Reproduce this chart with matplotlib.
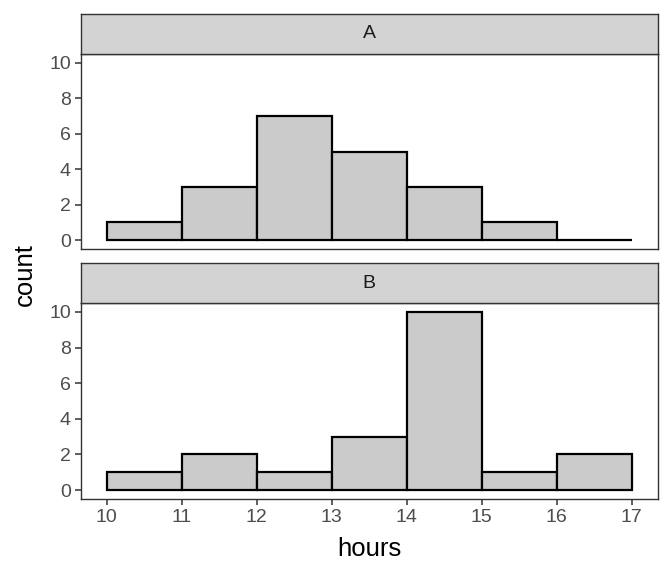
import matplotlib.pyplot as plt
import numpy as np

plt.rcParams['font.family'] = ['Liberation Sans', 'DejaVu Sans']

# データ
bin_edges = [10, 11, 12, 13, 14, 15, 16, 17]
counts_a = [1, 3, 7, 5, 3, 1, 0]
counts_b = [1, 2, 1, 3, 10, 1, 2]
panels = ['A', 'B']
yticks = [0, 2, 4, 6, 8, 10]

fig = plt.figure(figsize=(6.72, 5.76), dpi=100)
W, H = 672, 576

def box(x0, y0, x1, y1):
    # ピクセル座標 -> figure座標
    return [x0 / W, 1 - y1 / H, (x1 - x0) / W, (y1 - y0) / H]

panel_boxes = [box(80.5, 54, 658, 249), box(80.5, 303, 658, 499)]
strip_boxes = [box(80.5, 14, 658, 54), box(80.5, 263, 658, 303)]

for i, (name, counts) in enumerate(zip(panels, [counts_a, counts_b])):
    ax = fig.add_axes(panel_boxes[i])
    ax.bar(bin_edges[:-1], counts, width=1, align='edge',
           color='#cbcbcb', edgecolor='black', linewidth=1.6, zorder=2)
    ax.set_xlim(9.65, 17.35)
    ax.set_ylim(-0.5, 10.5)
    ax.set_yticks(yticks)
    ax.set_xticks(bin_edges)
    for s in ax.spines.values():
        s.set_color('#333333')
        s.set_linewidth(1.0)
    ax.tick_params(colors='#333333', labelcolor='#4d4d4d', labelsize=14,
                   length=4, width=1.1, pad=3)
    if i == 0:
        ax.tick_params(axis='x', bottom=False, labelbottom=False)

    sax = fig.add_axes(strip_boxes[i])
    sax.set_facecolor('#d3d3d3')
    sax.set_xticks([])
    sax.set_yticks([])
    for s in sax.spines.values():
        s.set_color('#333333')
        s.set_linewidth(1.0)
    sax.text(0.5, 0.5, name, ha='center', va='center', fontsize=14,
             color='#1a1a1a', transform=sax.transAxes)

fig.text(25 / W, 1 - 275 / H, 'count', rotation=90, ha='center', va='center',
         fontsize=18.5, color='black')
fig.text(369 / W, 1 - 549 / H, 'hours', ha='center', va='center',
         fontsize=18.5, color='black')

fig.savefig('out.png', dpi=100)
